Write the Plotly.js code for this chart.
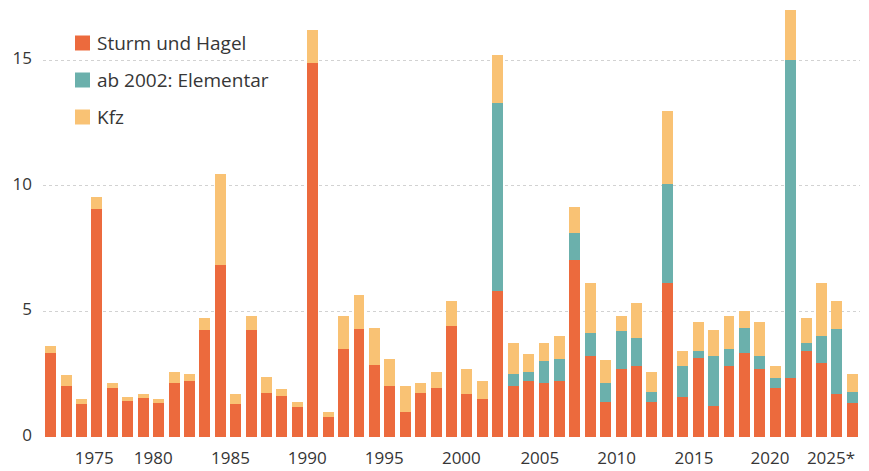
<!DOCTYPE html>
<html>
<head>
<meta charset="utf-8">
<script src="https://cdn.plot.ly/plotly-3.0.1.min.js"></script>
<style>html,body{margin:0;padding:0;background:#fff;}#chart{width:869px;height:471px;}</style>
</head>
<body>
<div id="chart"></div>
<script>
const years = [];
for (let y = 1973; y <= 2025; y++) years.push(y);

const sturmHagel = [3.33, 2.04, 1.31, 9.07, 1.94, 1.45, 1.54, 1.34, 2.14, 2.24,
  4.26, 6.85, 1.31, 4.26, 1.74, 1.63, 1.18, 14.89, 0.81, 3.51,
  4.30, 2.87, 2.04, 0.98, 1.74, 1.94, 4.42, 1.71, 1.51, 5.83,
  2.04, 2.23, 2.14, 2.24, 7.04, 3.23, 1.41, 2.70, 2.84, 1.41,
  6.12, 1.61, 3.13, 1.25, 2.84, 3.33, 2.71, 1.96, 2.34, 3.43,
  2.94, 1.71, 1.34];

const elementar = [0, 0, 0, 0, 0, 0, 0, 0, 0, 0,
  0, 0, 0, 0, 0, 0, 0, 0, 0, 0,
  0, 0, 0, 0, 0, 0, 0, 0, 0, 7.46,
  0.47, 0.37, 0.89, 0.87, 1.08, 0.90, 0.73, 1.52, 1.09, 0.39,
  3.96, 1.23, 0.30, 1.98, 0.67, 1.00, 0.52, 0.38, 12.68, 0.33,
  1.10, 2.59, 0.46];

const kfz = [0.30, 0.43, 0.19, 0.48, 0.20, 0.16, 0.17, 0.17, 0.46, 0.26,
  0.47, 3.63, 0.40, 0.57, 0.66, 0.27, 0.23, 1.31, 0.17, 1.31,
  1.36, 1.46, 1.07, 1.05, 0.40, 0.66, 1.01, 0.99, 0.72, 1.93,
  1.22, 0.71, 0.70, 0.93, 1.06, 1.99, 0.93, 0.61, 1.40, 0.80,
  2.91, 0.59, 1.14, 1.03, 1.31, 0.69, 1.36, 0.50, 1.99, 0.99,
  2.08, 1.13, 0.70];

const tickPositions = [1975.82, 1979.65, 1984.66, 1989.64, 1994.64, 1999.64, 2004.73, 2009.71, 2014.73, 2019.66, 2023.62];
const tickLabels = ['1975', '1980', '1985', '1990', '1995', '2000', '2005', '2010', '2015', '2020', '2025*'];

const seriesNames = ['Sturm und Hagel', 'ab 2002: Elementar', 'Kfz'];
const seriesColors = ['#EC6A3D', '#6BB0AC', '#F9C274'];

const W = 869, H = 471;
const M = {l: 43, r: 9, t: 5, b: 34};
const PW = W - M.l - M.r, PH = H - M.t - M.b;
const px = p => (p - M.l) / PW;
const py = p => (H - M.b - p) / PH;

const FONT = '"Open Sans", sans-serif';
const TEXT = '#363636';

const data = [sturmHagel, elementar, kfz].map((vals, i) => ({
  type: 'bar',
  name: seriesNames[i],
  x: years,
  y: vals,
  marker: {color: seriesColors[i], line: {width: 0}},
  hoverinfo: 'x+y+name'
}));

const shapes = [];
const annotations = [];
const legendY = [43, 80, 117];
seriesNames.forEach((n, i) => {
  shapes.push({
    type: 'rect', xref: 'paper', yref: 'paper',
    x0: px(75), x1: px(90), y0: py(legendY[i] + 7.5), y1: py(legendY[i] - 7.5),
    fillcolor: seriesColors[i], line: {width: 0}
  });
  annotations.push({
    xref: 'paper', yref: 'paper', x: px(95), y: py(legendY[i]),
    xanchor: 'left', yanchor: 'middle', showarrow: false,
    text: n, font: {family: FONT, size: 19, color: TEXT}
  });
});

const layout = {
  width: W, height: H,
  margin: M,
  paper_bgcolor: '#fff', plot_bgcolor: '#fff',
  barmode: 'stack',
  bargap: 0.29,
  showlegend: false,
  xaxis: {
    range: [1972.5, 2025.5],
    tickvals: tickPositions,
    ticktext: tickLabels,
    showgrid: false, zeroline: false, showline: false,
    ticks: '',
    tickfont: {family: FONT, size: 17, color: TEXT},
    ticklabelstandoff: 9
  },
  yaxis: {
    range: [0, 17.21],
    tickvals: [0, 5, 10, 15],
    ticktext: ['0', '5', '10', '15'],
    showgrid: true, gridcolor: '#d2d2d2', griddash: 'dot', gridwidth: 1,
    zeroline: false, showline: false, ticks: '',
    tickfont: {family: FONT, size: 17, color: TEXT},
    ticklabelstandoff: 10,
    ticklabelshift: -2
  },
  shapes: shapes,
  annotations: annotations
};

Plotly.newPlot('chart', data, layout, {displayModeBar: false, staticPlot: true});
</script>
</body>
</html>
